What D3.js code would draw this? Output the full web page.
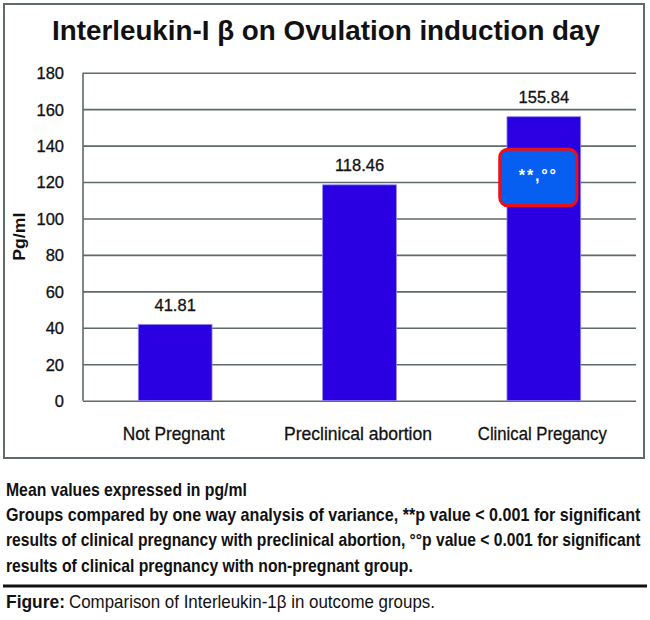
<!DOCTYPE html>
<html>
<head>
<meta charset="utf-8">
<script src="https://cdn.jsdelivr.net/npm/d3@7"></script>
<style>
    body { margin: 0; background: #fff; }
    text { font-family: "Liberation Sans Narrow", "Arial Narrow", "Liberation Sans", sans-serif; fill: #111; }
</style>
</head>
<body>
<div class="graph-goes-here"></div>
<script>
var categories = ["Not Pregnant", "Preclinical abortion", "Clinical Pregancy"];
var meanValues = [41.81, 118.46, 155.84];
var yTicks = [0, 20, 40, 60, 80, 100, 120, 140, 160, 180];
var chartTitle = "Interleukin-I \u03b2 on Ovulation induction day";
var yLabel = "Pg/ml";
var significance = { category: "Clinical Pregancy", label: "**,\u00b0\u00b0", from: 107, to: 138 };
var notes = [
    "Mean values expressed in pg/ml",
    "Groups compared by one way analysis of variance, **p value < 0.001 for significant",
    "results of clinical pregnancy with preclinical abortion, \u00b0\u00b0p value < 0.001 for significant",
    "results of clinical pregnancy with non-pregnant group."
];
var figureCaption = ["Figure:", "Comparison of Interleukin-1\u03b2 in outcome groups."];

var gridColor = "#5d6b69";
var barColor = "#2a00e2";

var svg = d3.select(".graph-goes-here")
    .append("svg")
    .attr("width", 650)
    .attr("height", 620);

svg.append("rect").attr("width", 650).attr("height", 620).attr("fill", "#fff");

// chart frame
svg.append("rect")
    .attr("x", 4).attr("y", 4)
    .attr("width", 640).attr("height", 454)
    .attr("fill", "none")
    .attr("stroke", gridColor)
    .attr("stroke-width", 2);

svg.append("text")
    .attr("x", 326).attr("y", 40)
    .attr("text-anchor", "middle")
    .attr("font-weight", "bold")
    .attr("font-size", 27)
    .attr("textLength", 548)
    .attr("lengthAdjust", "spacingAndGlyphs")
    .text(chartTitle);

var plotLeft = 83, plotRight = 636, plotTop = 72.7, plotBottom = 400.7;

var y = d3.scaleLinear().domain([0, 180]).range([plotBottom, plotTop]);
var x = d3.scaleBand().domain(categories).range([plotLeft, plotRight]).padding(0);
var barWidth = x.bandwidth() * 0.4;

var yAxis = svg.append("g")
    .attr("transform", "translate(" + plotLeft + ",0)")
    .call(d3.axisLeft(y).tickValues(yTicks).tickSize(-(plotRight - plotLeft)).tickPadding(19));
yAxis.select(".domain").remove();
yAxis.selectAll(".tick line").attr("stroke", gridColor).attr("stroke-width", 1.6);
yAxis.selectAll(".tick text")
    .attr("font-size", 16.5)
    .attr("font-family", "\"Liberation Sans Narrow\", \"Liberation Sans\", sans-serif")
    .attr("fill", "#111")
    .attr("stroke", "#111")
    .attr("stroke-width", 0.3)
    .attr("dy", "0.36em");

// left axis line
svg.append("line")
    .attr("x1", plotLeft).attr("x2", plotLeft)
    .attr("y1", plotTop).attr("y2", plotBottom)
    .attr("stroke", gridColor).attr("stroke-width", 1.6);

svg.selectAll(".bar")
    .data(meanValues)
    .enter()
    .append("rect")
    .attr("class", "bar")
    .attr("x", (d, i) => x(categories[i]) + (x.bandwidth() - barWidth) / 2)
    .attr("y", d => y(d))
    .attr("width", barWidth)
    .attr("height", d => plotBottom - y(d))
    .attr("fill", barColor)
    .attr("stroke", "#8f86f5")
    .attr("stroke-width", 0.8);

svg.selectAll(".value-label")
    .data(meanValues)
    .enter()
    .append("text")
    .attr("class", "value-label")
    .attr("x", (d, i) => x(categories[i]) + x.bandwidth() / 2)
    .attr("y", d => y(d) - 14)
    .attr("text-anchor", "middle")
    .attr("font-size", 16.5)
    .attr("stroke", "#111")
    .attr("stroke-width", 0.3)
    .text(d => d.toFixed(2));

var catWidths = [102, 148, 129];
svg.selectAll(".cat-label")
    .data(categories)
    .enter()
    .append("text")
    .attr("class", "cat-label")
    .attr("x", d => x(d) + x.bandwidth() / 2 - 1.5)
    .attr("y", 440)
    .attr("text-anchor", "middle")
    .attr("font-size", 18.5)
    .attr("stroke", "#111")
    .attr("stroke-width", 0.3)
    .attr("textLength", (d, i) => catWidths[i])
    .attr("lengthAdjust", "spacingAndGlyphs")
    .text(d => d);

svg.append("text")
    .attr("transform", "translate(25," + ((plotTop + plotBottom) / 2) + ") rotate(-90)")
    .attr("text-anchor", "middle")
    .attr("font-weight", "bold")
    .attr("font-size", 16)
    .attr("textLength", 48)
    .attr("lengthAdjust", "spacingAndGlyphs")
    .text(yLabel);

// significance badge on clinical pregnancy bar
var badgeCx = x(significance.category) + x.bandwidth() / 2 - 5.5;
var badgeW = 77;
svg.append("rect")
    .attr("x", badgeCx - badgeW / 2)
    .attr("y", y(significance.to))
    .attr("width", badgeW)
    .attr("height", y(significance.from) - y(significance.to))
    .attr("rx", 8).attr("ry", 8)
    .attr("fill", "#065ff0")
    .attr("stroke", "#e8101a")
    .attr("stroke-width", 3.2);

svg.append("text")
    .attr("x", badgeCx - 1)
    .attr("y", (y(significance.to) + y(significance.from)) / 2 + 4)
    .attr("text-anchor", "middle")
    .attr("font-size", 16)
    .attr("font-weight", "bold")
    .attr("textLength", 37)
    .attr("lengthAdjust", "spacing")
    .style("fill", "#fff")
    .text(significance.label);

// notes under chart, squeezed horizontally to the column width
var noteWidths = [241, 635, 635, 407];
var noteY = [496, 520.7, 546, 571.7];
svg.selectAll(".note")
    .data(notes)
    .enter()
    .append("text")
    .attr("class", "note")
    .attr("font-size", 17.5)
    .attr("font-weight", "bold")
    .text(d => d)
    .attr("transform", function (d, i) {
        var len = this.getComputedTextLength();
        return "translate(6," + noteY[i] + ") scale(" + (noteWidths[i] / len) + ",1)";
    });

svg.append("line")
    .attr("x1", 3).attr("x2", 647)
    .attr("y1", 586).attr("y2", 586)
    .attr("stroke", "#111").attr("stroke-width", 3);

svg.append("text")
    .attr("x", 6).attr("y", 608)
    .attr("font-size", 18.5)
    .attr("font-weight", "bold")
    .attr("textLength", 59)
    .attr("lengthAdjust", "spacingAndGlyphs")
    .text(figureCaption[0]);

svg.append("text")
    .attr("x", 69).attr("y", 608)
    .attr("font-size", 18.5)
    .attr("textLength", 366)
    .attr("lengthAdjust", "spacingAndGlyphs")
    .text(figureCaption[1]);
</script>
</body>
</html>
